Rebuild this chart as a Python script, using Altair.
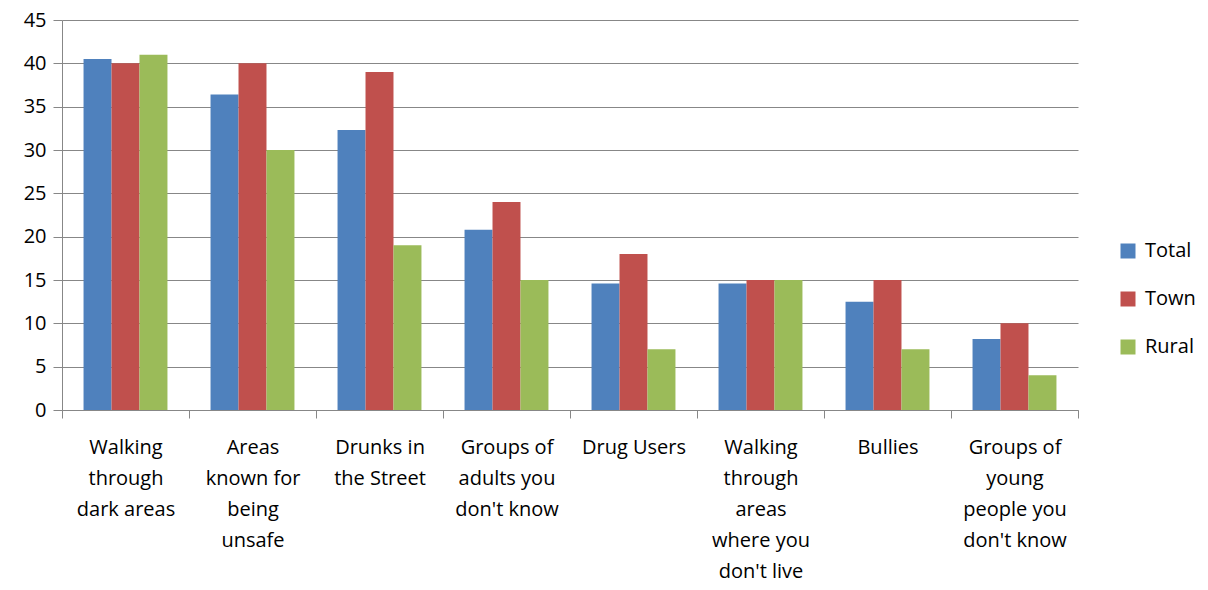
import altair as alt
import pandas as pd

categories = [
    "Walking\nthrough\ndark areas",
    "Areas\nknown for\nbeing\nunsafe",
    "Drunks in\nthe Street",
    "Groups of\nadults you\ndon't know",
    "Drug Users",
    "Walking\nthrough\nareas\nwhere you\ndon't live",
    "Bullies",
    "Groups of\nyoung\npeople you\ndon't know",
]
series = ["Total", "Town", "Rural"]
total = [40.5, 36.4, 32.3, 20.8, 14.6, 14.6, 12.5, 8.2]
town = [40, 40, 39, 24, 18, 15, 15, 10]
rural = [41, 30, 19, 15, 7, 15, 7, 4]
colors = ["#4F81BD", "#C0504D", "#9BBB59"]

rows = []
for s, vals in zip(series, [total, town, rural]):
    for c, v in zip(categories, vals):
        rows.append({"category": c, "series": s, "value": v})
df = pd.DataFrame(rows)

FONT = "Open Sans"
FS = 20
GRID = "#878787"

chart = alt.Chart(df).mark_bar().encode(
    x=alt.X(
        "category:N",
        sort=categories,
        title=None,
        scale=alt.Scale(paddingInner=0, paddingOuter=0),
        axis=alt.Axis(
            labelExpr="split(datum.label, '\\n')",
            labelAngle=0,
            labelFont=FONT,
            labelFontSize=FS,
            labelColor="#000000",
            labelLineHeight=31,
            labelPadding=19,
            labelBaseline="top",
            tickBand="extent",
            ticks=True,
            tickSize=8,
            tickColor=GRID,
            domainColor=GRID,
            grid=False,
        ),
    ),
    xOffset=alt.XOffset(
        "series:N",
        sort=series,
        scale=alt.Scale(paddingOuter=0.77, paddingInner=0),
    ),
    y=alt.Y(
        "value:Q",
        title=None,
        scale=alt.Scale(domain=[0, 45], nice=False),
        axis=alt.Axis(
            values=[0, 5, 10, 15, 20, 25, 30, 35, 40, 45],
            labelFont=FONT,
            labelFontSize=FS,
            labelColor="#000000",
            labelPadding=7,
            tickSize=9,
            tickColor=GRID,
            domainColor=GRID,
            gridColor=GRID,
            gridWidth=1,
        ),
    ),
    color=alt.Color(
        "series:N",
        sort=series,
        scale=alt.Scale(domain=series, range=colors),
        legend=alt.Legend(
            title=None,
            orient="none",
            legendX=1056,
            legendY=221,
            symbolType="square",
            symbolSize=225,
            symbolStrokeWidth=0,
            labelFont=FONT,
            labelFontSize=FS,
            labelColor="#000000",
            rowPadding=28,
            labelOffset=7,
        ),
    ),
).properties(
    width=1016,
    height=390,
    autosize=alt.AutoSizeParams(type="none"),
    padding={"left": 54, "top": 12, "right": 122, "bottom": 172},
).configure_view(stroke=None)

chart.save("out.html", embed_options={"renderer": "svg", "actions": False})
